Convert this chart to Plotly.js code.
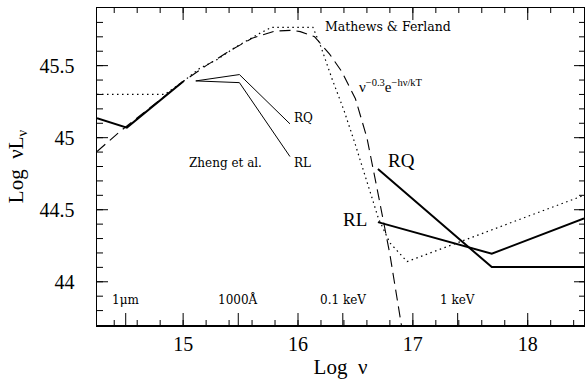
<!DOCTYPE html>
<html>
<head>
<meta charset="utf-8">
<script src="https://cdn.plot.ly/plotly-3.0.1.min.js"></script>
<style>html,body{margin:0;padding:0;background:#fff}#chart{width:585px;height:386px}</style>
</head>
<body>
<div id="chart"></div>
<script>
// ---- data ----
// thick solid optical/UV piece
const sedX = [14.25, 14.51, 15.0];
const sedY = [45.135, 45.07, 45.39];
// Zheng et al. composite, radio-quiet / radio-loud (thin solid)
const zhengX = [15.11, 15.49, 15.93];
const zhengRQ = [45.394, 45.438, 45.096];
const zhengRL = [45.394, 45.382, 44.869];
// Mathews & Ferland (dotted)
const mfX = [14.25, 14.84, 15.0, 15.145, 15.29, 15.464, 15.667, 15.77, 16.13, 16.2, 16.3, 16.4, 16.5, 16.6, 16.7, 16.8, 16.95, 18.49];
const mfY = [45.30, 45.30, 45.39, 45.482, 45.54, 45.632, 45.724, 45.766, 45.766, 45.63, 45.40, 45.19, 44.95, 44.69, 44.44, 44.27, 44.14, 44.60];
// nu^-0.3 exp(-h nu/kT) (dashed)
const bbX = [14.25, 14.45, 15.0, 15.2, 15.4, 15.6, 15.8, 15.95, 16.02, 16.145, 16.275, 16.38, 16.5, 16.6, 16.7, 16.8, 16.9, 16.92];
const bbY = [44.904, 45.043, 45.39, 45.50, 45.60, 45.69, 45.74, 45.745, 45.736, 45.70, 45.58, 45.46, 45.27, 45.00, 44.60, 44.19, 43.70, 43.60];
// X-ray power laws (thick solid)
const xrayX = [16.696, 17.687, 18.49];
const xrayRQ = [44.782, 44.102, 44.102];
const xrayRL = [44.414, 44.195, 44.44];
// axis ticks
const xMajorTicks = [15, 16, 17, 18];
const xMinorTicks = [14.4, 14.6, 14.8, 15.0, 15.2, 15.4, 15.6, 15.8, 16.0, 16.2, 16.4, 16.6, 16.8, 17.0, 17.2, 17.4, 17.6, 17.8, 18.0, 18.2, 18.4];
const yMajorTicks = [44, 44.5, 45, 45.5];
const yTickText = ['44', '44.5', '45', '45.5'];
const yMinorTicks = [43.8, 43.9, 44.0, 44.1, 44.2, 44.3, 44.4, 44.5, 44.6, 44.7, 44.8, 44.9, 45.0, 45.1, 45.2, 45.3, 45.4, 45.5, 45.6, 45.7, 45.8];
// special wavelength / energy marks on the bottom axis
const specialTicks = [14.5, 15.48, 16.39, 17.39];
const specialLabels = ['1\u03bcm', '1000\u00c5', '0.1 keV', '1 keV'];

const xRange = [14.25, 18.49], yRange = [43.7, 45.9];
const W = 585, H = 386, M = {l: 97, r: 1, t: 8, b: 61};
const xPerPx = (xRange[1] - xRange[0]) / (W - M.l - M.r);
const yPerPx = (yRange[1] - yRange[0]) / (H - M.t - M.b);

const black = '#000';
const traces = [
  {x: sedX, y: sedY, mode: 'lines', line: {color: black, width: 2}},
  {x: zhengX, y: zhengRQ, mode: 'lines', line: {color: black, width: 1}},
  {x: zhengX, y: zhengRL, mode: 'lines', line: {color: black, width: 1}},
  {x: mfX, y: mfY, mode: 'lines', line: {color: black, width: 1.2, dash: '1.5px,3.5px'}},
  {x: bbX, y: bbY, mode: 'lines', line: {color: black, width: 1.1, dash: '11px,6px'}},
  {x: xrayX, y: xrayRQ, mode: 'lines', line: {color: black, width: 2}},
  {x: xrayX, y: xrayRL, mode: 'lines', line: {color: black, width: 2}}
];

// tick marks: one trace per group, ticks separated by gaps (lengths in pixels)
function xTickGroup(vals, lenPx, top) {
  const x = [], y = [];
  const y0 = top ? yRange[1] : yRange[0];
  const y1 = top ? y0 - lenPx * yPerPx : y0 + lenPx * yPerPx;
  vals.forEach(v => { x.push(v, v, null); y.push(y0, y1, null); });
  traces.push({x: x, y: y, mode: 'lines', connectgaps: false, line: {color: black, width: 1}});
}
function yTickGroup(vals, lenPx, right) {
  const x = [], y = [];
  const x0 = right ? xRange[1] : xRange[0];
  const x1 = right ? x0 - lenPx * xPerPx : x0 + lenPx * xPerPx;
  vals.forEach(v => { x.push(x0, x1, null); y.push(v, v, null); });
  traces.push({x: x, y: y, mode: 'lines', connectgaps: false, line: {color: black, width: 1}});
}
xTickGroup(xMinorTicks, 5, false);
xTickGroup(xMinorTicks, 5, true);
xTickGroup(xMajorTicks.concat(specialTicks), 12, false);
xTickGroup(xMajorTicks, 12, true);
yTickGroup(yMinorTicks, 6, false);
yTickGroup(yMinorTicks, 5, true);
yTickGroup(yMajorTicks, 11, false);
yTickGroup(yMajorTicks, 10, true);
traces.forEach(t => Object.assign(t, {showlegend: false, hoverinfo: 'skip'}));

const serif = 'Liberation Serif';
const small = 'DejaVu Serif';
const annotations = [
  {x: 15.373, y: 44.824, text: 'Zheng et al.', font: {family: small, size: 12, color: black}},
  {x: 15.95, y: 45.135, text: 'RQ', xanchor: 'left', font: {family: small, size: 12, color: black}},
  {x: 15.95, y: 44.824, text: 'RL', xanchor: 'left', font: {family: small, size: 12, color: black}},
  {x: 16.78, y: 45.77, text: 'Mathews & Ferland', font: {family: small, size: 12.5, color: black}},
  {x: 16.51, y: 45.36, text: '\u03bd<sup>\u22120.3</sup>e<sup>\u2212h\u03bd/kT</sup>', xanchor: 'left', font: {family: serif, size: 15, color: black}},
  {x: 16.9, y: 44.84, text: 'RQ', font: {family: serif, size: 19, color: black}},
  {x: 16.62, y: 44.43, text: 'RL', xanchor: 'right', font: {family: serif, size: 19, color: black}}
].concat(specialTicks.map((v, i) => ({
  x: v, y: 43.875, text: specialLabels[i], font: {family: small, size: 12, color: black}
}))).map(a => Object.assign({xref: 'x', yref: 'y', showarrow: false}, a));

const layout = {
  width: W, height: H, margin: M,
  paper_bgcolor: '#fff', plot_bgcolor: '#fff',
  showlegend: false,
  xaxis: {
    range: xRange, tickvals: xMajorTicks, ticks: '',
    showline: true, linecolor: black, linewidth: 1.5, mirror: true,
    showgrid: false, zeroline: false,
    tickfont: {family: serif, size: 20, color: black},
    title: {text: 'Log\u00a0\u00a0\u03bd', font: {family: serif, size: 21, color: black}, standoff: 6}
  },
  yaxis: {
    range: yRange, tickvals: yMajorTicks, ticktext: yTickText, ticks: '',
    showline: true, linecolor: black, linewidth: 1.5, mirror: true,
    showgrid: false, zeroline: false,
    tickfont: {family: serif, size: 20, color: black}, ticklabelstandoff: 17,
    title: {text: 'Log\u00a0\u00a0\u03bdL<sub>\u03bd</sub>', font: {family: serif, size: 21, color: black}, standoff: 10}
  },
  annotations: annotations
};

Plotly.newPlot('chart', traces, layout, {staticPlot: true, displayModeBar: false});
</script>
</body>
</html>
